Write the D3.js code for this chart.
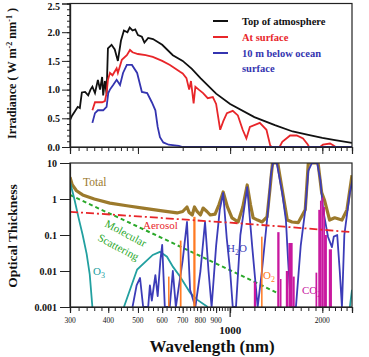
<!DOCTYPE html>
<html><head><meta charset="utf-8">
<script src="https://cdn.jsdelivr.net/npm/d3@7"></script>
<style>
html,body{margin:0;padding:0;background:#fff;}
svg{display:block;font-family:"Liberation Serif","Times New Roman",serif;}
</style></head>
<body>
<svg id="c" width="369" height="357"></svg>
<script>
// ---------- DATA ----------
// Top panel: irradiance (W m^-2 nm^-1) as [wavelength nm, value]
const topOfAtmosphere = [[300,0.47],[305,0.55],[311,0.62],[318,0.70],[323,0.68],[328,0.95],[336,0.96],[344,0.90],[350,1.0],[355,1.05],[362,0.94],[370,1.17],[376,1.0],[382,1.22],[385,0.9],[390,1.15],[395,0.93],[399,1.72],[410,1.78],[420,1.7],[430,1.5],[440,1.85],[450,2.03],[462,2.0],[470,2.08],[480,2.03],[490,2.05],[500,1.95],[515,1.92],[525,1.82],[540,1.9],[560,1.88],[600,1.78],[650,1.6],[700,1.5],[750,1.36],[800,1.2],[900,0.93],[1000,0.75],[1200,0.52],[1400,0.38],[1600,0.27],[1800,0.21],[2000,0.16],[2200,0.12],[2500,0.07]];
const atSurface = [[355,0.64],[362,0.78],[370,0.78],[382,0.78],[390,0.8],[395,0.94],[399,1.17],[405,1.29],[413,1.25],[426,1.37],[430,1.29],[443,1.52],[460,1.6],[471,1.69],[480,1.65],[500,1.62],[530,1.6],[559,1.57],[600,1.5],[636,1.43],[686,1.31],[700,1.28],[720,1.2],[735,1.0],[745,1.15],[760,0.76],[770,1.05],[790,1.0],[816,0.94],[845,0.85],[878,0.87],[900,0.75],[928,0.3],[950,0.45],[976,0.59],[1020,0.63],[1060,0.55],[1099,0.3],[1130,0.15],[1160,0.35],[1250,0.42],[1314,0.3],[1353,0.02],[1370,0.0],[1450,0.0],[1480,0.09],[1570,0.2],[1650,0.2],[1730,0.15],[1790,0.05],[1810,0.0],[1967,0.0],[2010,0.04],[2120,0.06],[2170,0.03],[2210,0.0]];
const belowOcean = [[355,0.42],[362,0.59],[370,0.64],[385,0.64],[395,0.7],[400,0.94],[405,1.0],[415,1.08],[426,1.17],[437,1.08],[447,1.29],[460,1.43],[478,1.43],[497,1.29],[515,0.96],[536,0.94],[555,0.78],[570,0.64],[580,0.35],[590,0.17],[605,0.08],[630,0.04],[680,0.02],[700,0.0],[2500,0.0]];

// Bottom panel: optical thickness as [wavelength nm, value]
const total = [[300,4.0],[305,2.5],[315,1.7],[330,1.3],[360,1.0],[405,0.77],[460,0.65],[519,0.56],[600,0.47],[671,0.41],[700,0.45],[723,0.6],[735,0.42],[752,0.36],[765,0.6],[780,0.45],[800,0.36],[816,0.56],[840,0.45],[861,0.36],[893,0.38],[920,0.7],[949,1.57],[980,0.6],[1014,0.30],[1062,0.23],[1100,0.6],[1137,2.45],[1165,0.7],[1189,0.3],[1230,0.26],[1272,0.23],[1320,0.32],[1350,2],[1375,12],[1430,12],[1479,1.8],[1537,0.26],[1593,0.23],[1668,0.22],[1759,0.5],[1800,12],[1937,12],[1990,1.5],[2035,0.9],[2113,0.26],[2195,0.3],[2318,0.26],[2407,0.5],[2500,4.6]];
const aerosol = [[300,0.44],[500,0.33],[700,0.27],[1000,0.22],[1500,0.17],[2000,0.14],[2500,0.12]];
const molecular = [[300,1.3],[350,0.7],[400,0.41],[450,0.26],[500,0.17],[600,0.082],[700,0.044],[800,0.026],[900,0.016],[1000,0.0105],[1200,0.005],[1420,0.0025]];
const ozoneUV = [[300,3.0],[310,1.0],[320,0.3],[330,0.1],[340,0.03],[348,0.008],[355,0.001]];
const ozoneVis = [[450,0.001],[471,0.003],[497,0.011],[536,0.02],[559,0.028],[590,0.034],[622,0.025],[651,0.013],[686,0.007],[740,0.0025],[780,0.0016],[845,0.001]];
const ozoneIR = [[2460,0.001],[2500,0.003]];
const water = [[480,0.001],[495,0.004],[508,0.0064],[520,0.001],[540,0.001],[547,0.004],[555,0.0015],[570,0.0077],[580,0.002],[592,0.02],[600,0.053],[612,0.001],[635,0.001],[650,0.01],[665,0.001],[700,0.02],[723,0.23],[740,0.003],[770,0.001],[800,0.01],[828,0.23],[850,0.01],[870,0.001],[900,0.05],[925,0.5],[949,1.47],[975,0.08],[1000,0.01],[1020,0.001],[1045,0.001],[1080,0.1],[1137,2.15],[1180,0.05],[1230,0.001],[1270,0.01],[1330,0.5],[1360,5],[1380,12],[1420,12],[1479,1.5],[1521,0.26],[1546,0.02],[1580,0.001],[1640,0.001],[1700,0.05],[1759,0.49],[1800,6],[1850,12],[1925,12],[1970,3.4],[2013,0.49],[2088,0.088],[2150,0.046],[2180,0.09],[2237,0.1],[2280,0.01],[2318,0.001],[2360,0.1],[2460,1.5],[2520,4.1]];
// absorption bands: [start nm, end nm, peak optical thickness]
const o2Bands = [[627,633,0.007],[685,694,0.07],[758,771,0.32],[1262,1274,0.09]];
const co2Bands = [[1195,1215,0.005],[1425,1450,0.12],[1455,1470,0.006],[1520,1545,0.01],[1550,1600,0.06],[1600,1625,0.007],[1900,1925,0.009],[1940,1965,0.5],[1965,1990,0.9],[1990,2015,1.1],[2015,2040,0.6],[2040,2070,0.1],[2100,2150,0.04]];

const legendLabels = [["Top of atmosphere"],["At surface"],["10 m below ocean","surface"]];
const topYTicks = [0,0.5,1.0,1.5,2.0,2.5];
const botYTicks = [10,1,0.1,0.01,0.001];
const botYTickLabels = ["10","1","0.1","0.01","0.001"];
const smallXTickLabels = [300,400,500,600,700,800,900,2000];
const bigXTickLabel = [1000];

// ---------- STYLES ----------
const C = {black:"#111", red:"#e8262a", blue:"#3434b0", total:"#9c7a2c", aerosol:"#e8262a",
  molec:"#2aa82a", o3:"#22a0a0", h2o:"#3c3cb8", o2:"#ff7a22", co2:"#c8189f"};

const svg = d3.select("#c");
const L=70, R=352;
const x = d3.scaleLog().domain([300,2500]).range([L,R]);
const yT = d3.scaleLinear().domain([0,2.5]).range([147,3.5]);
const yB = d3.scaleLog().domain([0.001,10]).range([307,163]).clamp(true);

const defs = svg.append("defs");
defs.append("clipPath").attr("id","cpT").append("rect").attr("x",L).attr("y",3.5).attr("width",R-L).attr("height",147-3.5);
defs.append("clipPath").attr("id","cpB").append("rect").attr("x",L).attr("y",163).attr("width",R-L).attr("height",307-163);

// ---------- TOP PANEL ----------
const gT = svg.append("g");
const lineT = d3.line().x(d=>x(d[0])).y(d=>yT(d[1]));
const plotT = gT.append("g").attr("clip-path","url(#cpT)");
plotT.append("path").datum(topOfAtmosphere).attr("d",lineT).attr("fill","none").attr("stroke",C.black).attr("stroke-width",1.8);
plotT.append("path").datum(atSurface).attr("d",lineT).attr("fill","none").attr("stroke",C.red).attr("stroke-width",1.8);
plotT.append("path").datum(belowOcean).attr("d",lineT).attr("fill","none").attr("stroke",C.blue).attr("stroke-width",1.8);

gT.append("rect").attr("x",L).attr("y",3.5).attr("width",R-L).attr("height",147-3.5).attr("fill","none").attr("stroke","#222").attr("stroke-width",1.2);
const minorT = d3.range(0,2.501,0.1);
gT.append("g").attr("transform",`translate(${L},0)`).call(d3.axisLeft(yT).tickValues(minorT).tickSize(3).tickFormat(""));
const axT = gT.append("g").attr("transform",`translate(${L},0)`).call(d3.axisLeft(yT).tickValues(topYTicks).tickSize(8).tickPadding(2).tickFormat(d3.format(".1f")));
axT.selectAll(".tick text").filter(d=>d===2.5).attr("dy","0.62em");
const minorX1 = d3.range(300,500,20).concat(d3.range(500,1000,100)).concat(d3.range(1000,2501,100));
gT.append("g").attr("transform","translate(0,147)").call(d3.axisBottom(x).tickValues(minorX1).tickSize(4).tickFormat(""));
gT.append("g").attr("transform","translate(0,147)").call(d3.axisBottom(x).tickValues([500,1000,2000]).tickSize(7).tickFormat(""));

const leg = gT.append("g");
[C.black,C.red,C.blue].forEach((col,i)=>{
  const yy = 21 + i*16;
  leg.append("line").attr("x1",213).attr("x2",228).attr("y1",yy).attr("y2",yy).attr("stroke",col).attr("stroke-width",2);
  legendLabels[i].forEach((t,j)=>{
    leg.append("text").attr("x",242).attr("y",yy+3.5+j*15).text(t).attr("fill",col)
      .attr("font-size",10.5).attr("font-weight","bold");
  });
});

svg.append("text").attr("transform","translate(16,139) rotate(-90)").attr("font-size",12.2).attr("font-weight","bold").attr("fill","#111")
  .html('Irradiance ( W m<tspan dy="-4" font-size="8">-2</tspan><tspan dy="4"> nm</tspan><tspan dy="-4" font-size="8">-1</tspan><tspan dy="4"> )</tspan>');

// ---------- BOTTOM PANEL ----------
const gB = svg.append("g");
const lineB = d3.line().x(d=>x(d[0])).y(d=>yB(d[1]));
const plotB = gB.append("g").attr("clip-path","url(#cpB)");
plotB.append("path").datum(total).attr("d",lineB).attr("fill","none").attr("stroke",C.total).attr("stroke-width",3.2).attr("stroke-linejoin","round");
plotB.append("path").datum(molecular).attr("d",lineB).attr("fill","none").attr("stroke",C.molec).attr("stroke-width",2).attr("stroke-dasharray","4,3");
[ozoneUV,ozoneVis,ozoneIR].forEach(s=>plotB.append("path").datum(s).attr("d",lineB).attr("fill","none").attr("stroke",C.o3).attr("stroke-width",1.8));
plotB.append("path").datum(water).attr("d",lineB).attr("fill","none").attr("stroke",C.h2o).attr("stroke-width",1.8).attr("stroke-linejoin","round");
plotB.selectAll("rect.o2").data(o2Bands).join("rect").attr("class","o2")
  .attr("x",d=>x(d[0])).attr("width",d=>Math.max(1.5,x(d[1])-x(d[0]))).attr("y",d=>yB(d[2])).attr("height",d=>307-yB(d[2])).attr("fill",C.o2);
plotB.selectAll("rect.co2").data(co2Bands).join("rect").attr("class","co2")
  .attr("x",d=>x(d[0])).attr("width",d=>Math.max(1.5,x(d[1])-x(d[0]))).attr("y",d=>yB(d[2])).attr("height",d=>307-yB(d[2])).attr("fill",C.co2);
plotB.append("path").datum(aerosol).attr("d",lineB).attr("fill","none").attr("stroke",C.aerosol).attr("stroke-width",1.8).attr("stroke-dasharray","8,3,2,3");

gB.append("rect").attr("x",L).attr("y",163).attr("width",R-L).attr("height",307-163).attr("fill","none").attr("stroke","#222").attr("stroke-width",1.2);
gB.append("g").attr("transform",`translate(${L},0)`).call(d3.axisLeft(yB).tickValues(botYTicks).tickSize(10).tickPadding(3).tickFormat((d,i)=>botYTickLabels[i]));
const minorX2 = d3.range(300,1000,20).concat(d3.range(1000,2501,100));
gB.append("g").attr("transform","translate(0,307)").call(d3.axisBottom(x).tickValues(minorX2).tickSize(4).tickFormat(""));
gB.append("g").attr("transform","translate(0,307)").call(d3.axisBottom(x).tickValues([300,400,500,600,700,800,900,1000,2000]).tickSize(6).tickFormat(""));
gB.append("line").attr("x1",x(1000)).attr("x2",x(1000)).attr("y1",307).attr("y2",317).attr("stroke","#222").attr("stroke-width",1.2);
gB.selectAll("text.xs").data(smallXTickLabels).join("text").attr("class","xs")
  .attr("x",d=>x(d)).attr("y",323).attr("text-anchor","middle").attr("font-size",7.5).text(d=>d).attr("fill","#111");
gB.selectAll("text.xb").data(bigXTickLabel).join("text").attr("class","xb")
  .attr("x",d=>x(d)).attr("y",334).attr("text-anchor","middle").attr("font-size",11).attr("font-weight","bold").text(d=>d).attr("fill","#111");

svg.append("text").attr("transform","translate(17,236) rotate(-90)").attr("text-anchor","middle").attr("font-size",13.5).attr("font-weight","bold").attr("fill","#111").text("Optical Thickness");
svg.append("text").attr("x",212).attr("y",352).attr("text-anchor","middle").attr("font-size",17).attr("font-weight","bold").attr("fill","#111").text("Wavelength (nm)");

const lab = (xx,yy,col,fs,rot)=>{
  const e = svg.append("text").attr("x",xx).attr("y",yy).attr("fill",col).attr("font-size",fs||11);
  if(rot) e.attr("transform",`rotate(${rot},${xx},${yy})`);
  return e;
};
lab(83,186,C.total,11.5).text("Total");
lab(143,229,C.aerosol,11).text("Aerosol");
lab(104,226,C.molec,11,28).text("Molecular");
lab(97,240,C.molec,11,28).text("Scattering");
lab(93,275,C.o3,11).html('O<tspan dy="3" font-size="8">3</tspan>');
lab(227,252,C.h2o,11).html('H<tspan dy="3" font-size="8">2</tspan><tspan dy="-3">O</tspan>');
lab(263,279,C.o2,11).html('O<tspan dy="3" font-size="8">2</tspan>');
lab(302,294,C.co2,11).html('CO<tspan dy="3" font-size="8">2</tspan>');

svg.selectAll(".tick text").attr("font-weight","bold").attr("font-size",10).attr("font-family","Liberation Serif").attr("fill","#111");
svg.selectAll(".domain").attr("stroke","#222").attr("stroke-width",1.2);
svg.selectAll(".tick line").attr("stroke","#222");
</script>
</body></html>
